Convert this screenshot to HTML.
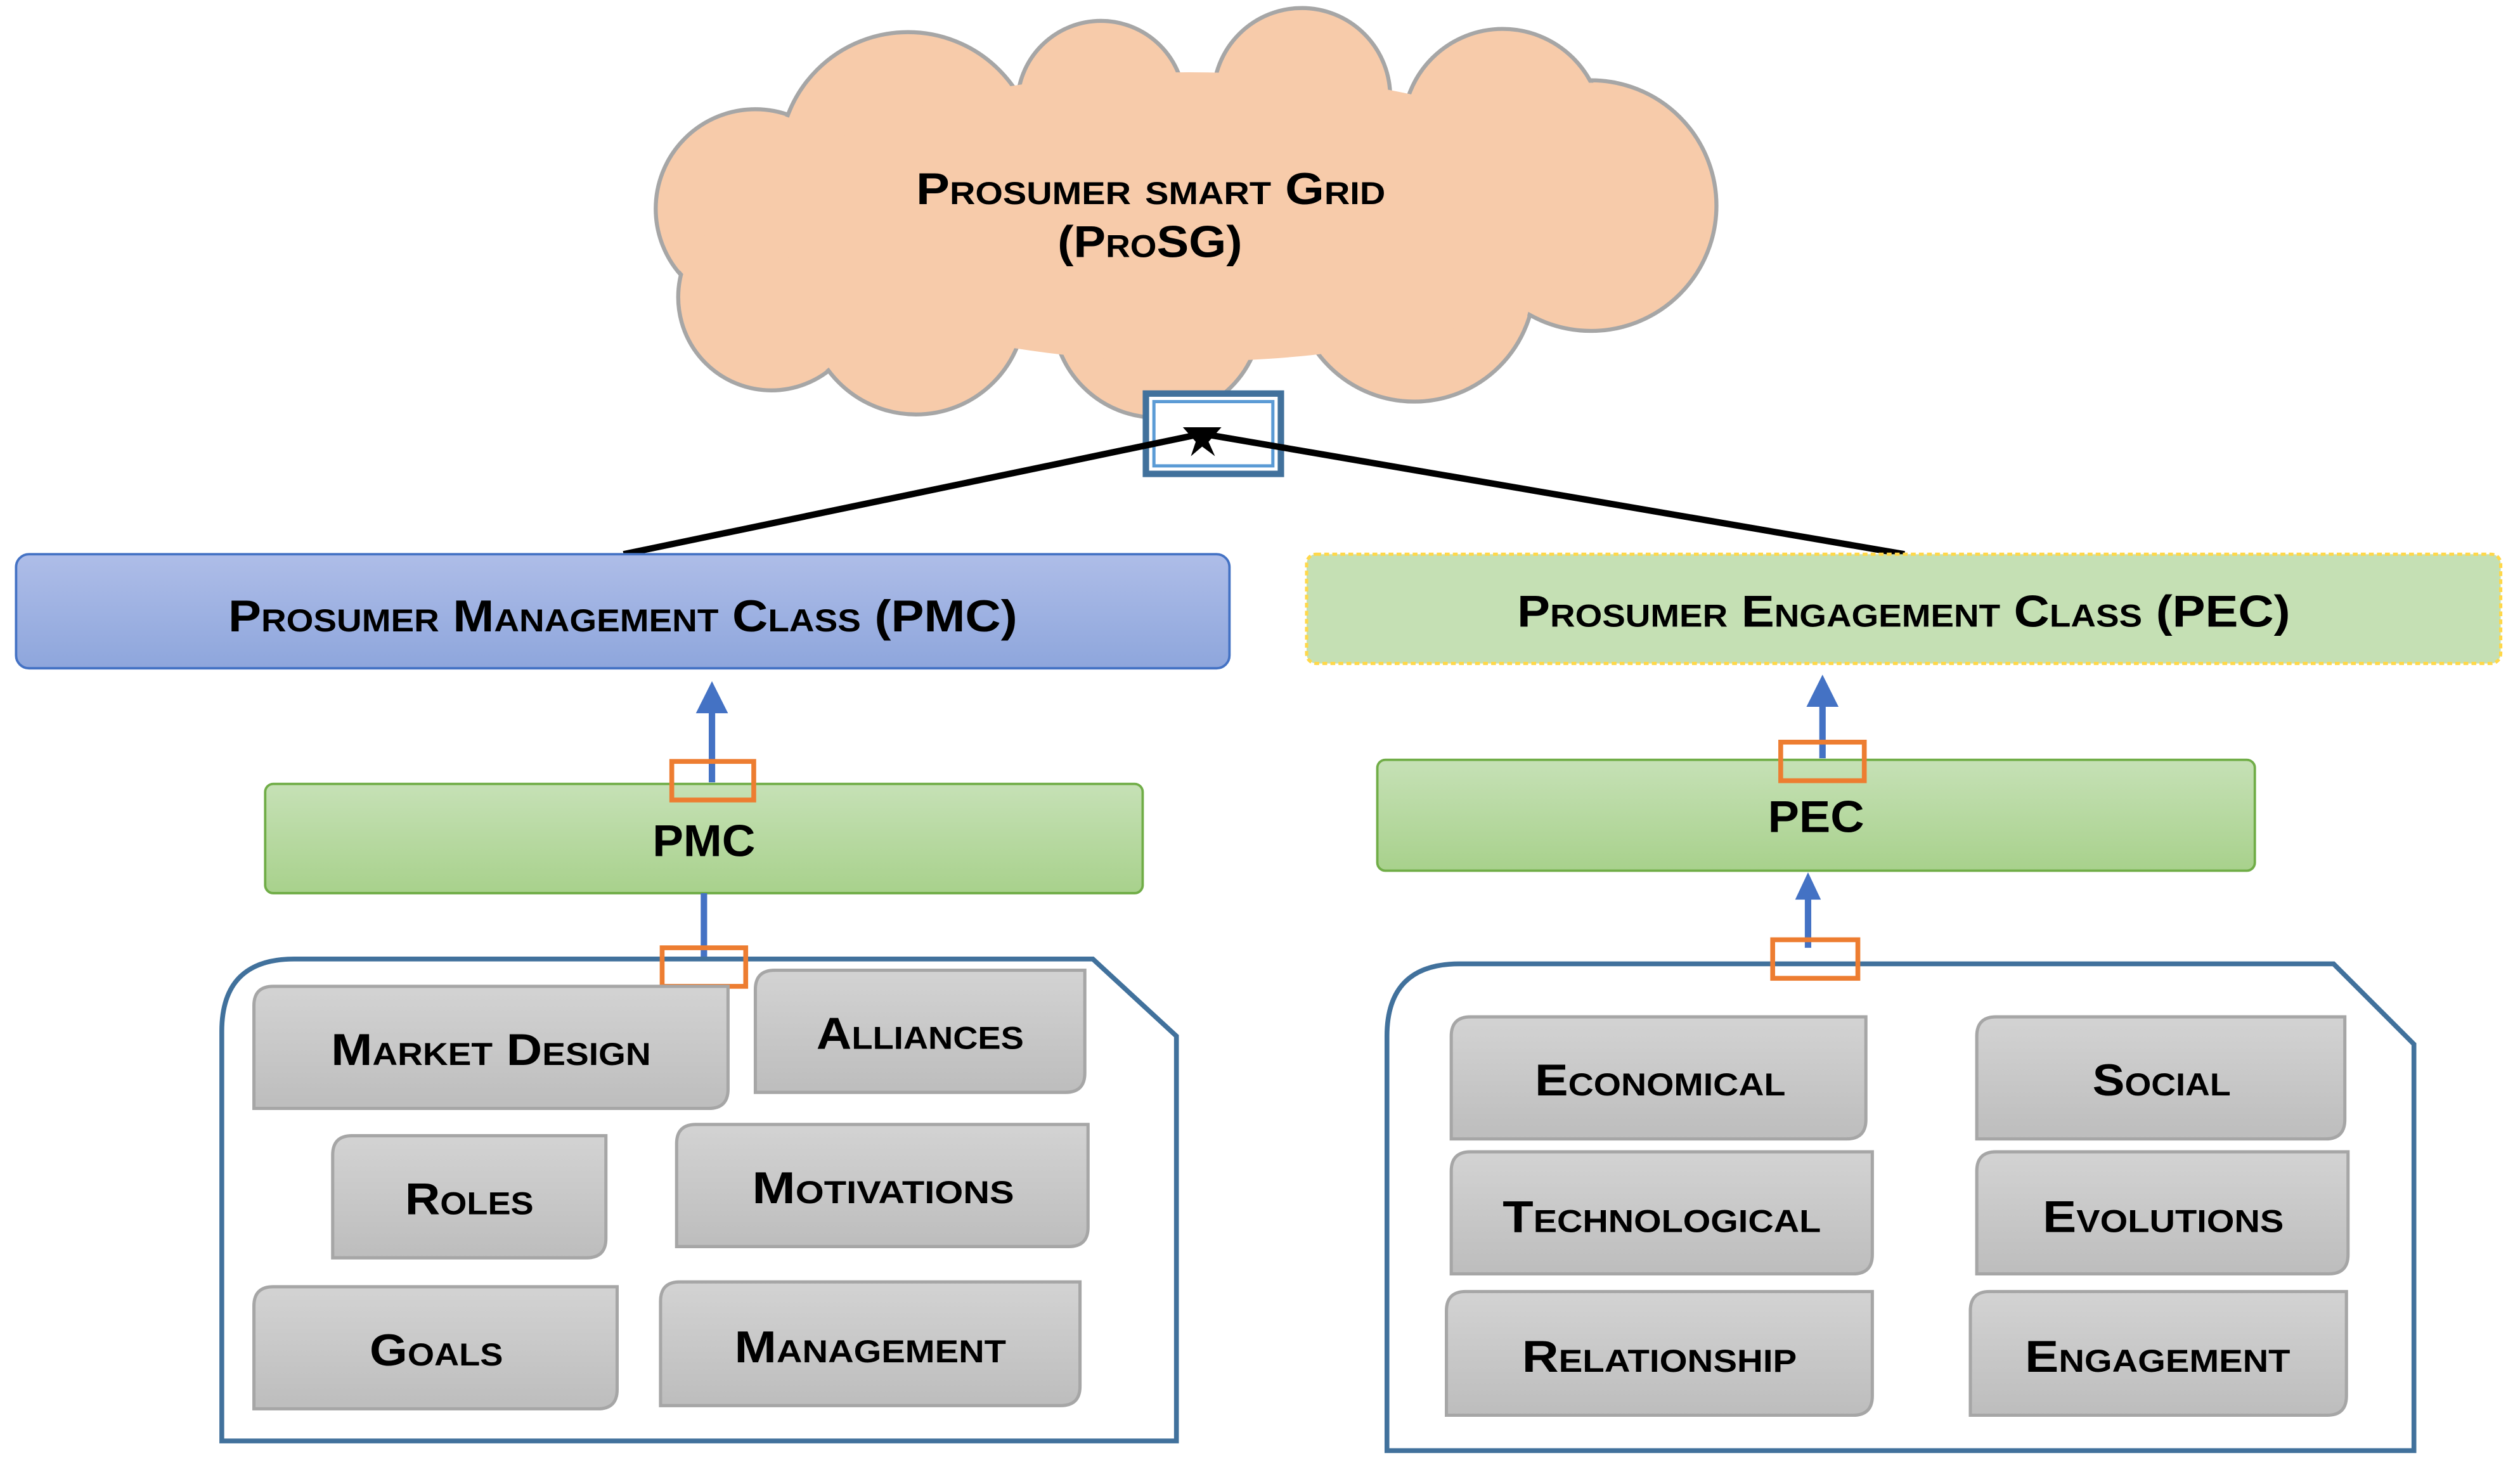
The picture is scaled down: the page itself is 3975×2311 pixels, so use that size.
<!DOCTYPE html>
<html><head><meta charset="utf-8"><style>
html,body{margin:0;padding:0;background:#fff}
svg text{font-family:"Liberation Sans",sans-serif;font-weight:bold;font-variant:small-caps;fill:#000}
</style></head><body>
<svg width="3975" height="2306" viewBox="0 0 1568 910" preserveAspectRatio="none" xmlns="http://www.w3.org/2000/svg">
<defs>
<linearGradient id="gb" x1="0" y1="0" x2="0" y2="1"><stop offset="0" stop-color="#aebde8"/><stop offset="1" stop-color="#8ea6dc"/></linearGradient>
<linearGradient id="gg" x1="0" y1="0" x2="0" y2="1"><stop offset="0" stop-color="#c6e1b6"/><stop offset="1" stop-color="#a8d18c"/></linearGradient>
<linearGradient id="gy" x1="0" y1="0" x2="0" y2="1"><stop offset="0" stop-color="#d3d3d3"/><stop offset="1" stop-color="#bdbdbd"/></linearGradient>
</defs>
<g stroke="#a6a6a6" stroke-width="2.5" fill="#f7cbaa">
<circle cx="470" cy="130" r="62"/><circle cx="480" cy="185" r="58"/><circle cx="570" cy="190" r="68"/>
<circle cx="720" cy="195" r="65"/><circle cx="880" cy="175" r="75"/><circle cx="990" cy="128" r="78"/>
<circle cx="935" cy="80" r="62"/><circle cx="810" cy="60" r="55"/><circle cx="685" cy="65" r="52"/><circle cx="565" cy="100" r="80"/>
</g>
<g fill="#f7cbaa">
<circle cx="470" cy="130" r="60.5"/><circle cx="480" cy="185" r="56.5"/><circle cx="570" cy="190" r="66.5"/>
<circle cx="720" cy="195" r="63.5"/><circle cx="880" cy="175" r="73.5"/><circle cx="990" cy="128" r="76.5"/>
<circle cx="935" cy="80" r="60.5"/><circle cx="810" cy="60" r="53.5"/><circle cx="685" cy="65" r="50.5"/><circle cx="565" cy="100" r="78.5"/>
<ellipse cx="740" cy="135" rx="260" ry="90"/>
</g>
<text x="570" y="127" font-size="28" textLength="292" lengthAdjust="spacingAndGlyphs">Prosumer smart Grid</text>
<text x="658" y="160" font-size="28" textLength="115" lengthAdjust="spacingAndGlyphs">(ProSG)</text>
<rect x="713" y="245" width="84" height="50" fill="#fff" stroke="#41719c" stroke-width="4"/>
<rect x="718" y="250" width="74" height="40" fill="none" stroke="#5b9bd5" stroke-width="2"/>
<line x1="388" y1="345" x2="748" y2="270" stroke="#000" stroke-width="4"/>
<line x1="1185" y1="345" x2="748" y2="270" stroke="#000" stroke-width="4"/>
<polygon points="736,266 760,266 752,275 756,284 748,278 741,284 744,275" fill="#000"/>
<rect x="10" y="345" width="755" height="71" rx="8" fill="url(#gb)" stroke="#4472c4" stroke-width="1.5"/>
<text x="142" y="393" font-size="28" textLength="491" lengthAdjust="spacingAndGlyphs">Prosumer Management Class (PMC)</text>
<rect x="813" y="345" width="743" height="68" rx="6" fill="#c5e0b4" stroke="#ffd84a" stroke-width="2" stroke-dasharray="3,2"/>
<text x="944" y="390" font-size="28" textLength="481" lengthAdjust="spacingAndGlyphs">Prosumer Engagement Class (PEC)</text>
<line x1="443" y1="487" x2="443" y2="440" stroke="#4472c4" stroke-width="4"/>
<polygon points="433,444 453,444 443,424" fill="#4472c4"/>
<rect x="165" y="488" width="546" height="68" rx="5" fill="url(#gg)" stroke="#70ad47" stroke-width="1.5"/>
<rect x="418" y="474" width="51" height="24" fill="none" stroke="#ed7d31" stroke-width="3"/>
<text x="406" y="533" font-size="28" textLength="64" lengthAdjust="spacingAndGlyphs" style="font-variant:normal">PMC</text>
<line x1="438" y1="556" x2="438" y2="600" stroke="#4472c4" stroke-width="4"/>
<path d="M183,597 L680,597 L732,645 L732,897 L138,897 L138,642 Q138,597 183,597 Z" fill="#fff" stroke="#41719c" stroke-width="3"/>
<rect x="412" y="590" width="52" height="24" fill="none" stroke="#ed7d31" stroke-width="3"/>
<line x1="1134" y1="472" x2="1134" y2="436" stroke="#4472c4" stroke-width="4"/>
<polygon points="1124,440 1144,440 1134,420" fill="#4472c4"/>
<rect x="857" y="473" width="546" height="69" rx="5" fill="url(#gg)" stroke="#70ad47" stroke-width="1.5"/>
<rect x="1108" y="462" width="52" height="24" fill="none" stroke="#ed7d31" stroke-width="3"/>
<text x="1100" y="518" font-size="28" textLength="60" lengthAdjust="spacingAndGlyphs" style="font-variant:normal">PEC</text>
<line x1="1125" y1="590" x2="1125" y2="558" stroke="#4472c4" stroke-width="4"/>
<polygon points="1117,560 1133,560 1125,543" fill="#4472c4"/>
<path d="M908,600 L1452,600 L1502,650 L1502,903 L863,903 L863,645 Q863,600 908,600 Z" fill="#fff" stroke="#41719c" stroke-width="3"/>
<rect x="1103" y="585" width="53" height="24" fill="none" stroke="#ed7d31" stroke-width="3"/>
<g stroke="#a6a6a6" stroke-width="2" fill="url(#gy)">
<path d="M170,614 H453 V678 Q453,690 441,690 H158 V626 Q158,614 170,614Z"/>
<path d="M482,604 H675 V668 Q675,680 663,680 H470 V616 Q470,604 482,604Z"/>
<path d="M219,707 H377 V771 Q377,783 365,783 H207 V719 Q207,707 219,707Z"/>
<path d="M433,700 H677 V764 Q677,776 665,776 H421 V712 Q421,700 433,700Z"/>
<path d="M170,801 H384 V865 Q384,877 372,877 H158 V813 Q158,801 170,801Z"/>
<path d="M423,798 H672 V863 Q672,875 660,875 H411 V810 Q411,798 423,798Z"/>
<path d="M915,633 H1161 V697 Q1161,709 1149,709 H903 V645 Q903,633 915,633Z"/>
<path d="M1242,633 H1459 V697 Q1459,709 1447,709 H1230 V645 Q1230,633 1242,633Z"/>
<path d="M915,717 H1165 V781 Q1165,793 1153,793 H903 V729 Q903,717 915,717Z"/>
<path d="M1242,717 H1461 V781 Q1461,793 1449,793 H1230 V729 Q1230,717 1242,717Z"/>
<path d="M912,804 H1165 V869 Q1165,881 1153,881 H900 V816 Q900,804 912,804Z"/>
<path d="M1238,804 H1460 V869 Q1460,881 1448,881 H1226 V816 Q1226,804 1238,804Z"/>
</g>
<g font-size="28" lengthAdjust="spacingAndGlyphs">
<text x="206" y="663" textLength="199" lengthAdjust="spacingAndGlyphs">Market Design</text>
<text x="508" y="653" textLength="129" lengthAdjust="spacingAndGlyphs">Alliances</text>
<text x="252" y="756" textLength="80" lengthAdjust="spacingAndGlyphs">Roles</text>
<text x="468" y="749" textLength="163" lengthAdjust="spacingAndGlyphs">Motivations</text>
<text x="230" y="850" textLength="83" lengthAdjust="spacingAndGlyphs">Goals</text>
<text x="457" y="848" textLength="169" lengthAdjust="spacingAndGlyphs">Management</text>
<text x="955" y="682" textLength="156" lengthAdjust="spacingAndGlyphs">Economical</text>
<text x="1302" y="682" textLength="86" lengthAdjust="spacingAndGlyphs">Social</text>
<text x="935" y="767" textLength="198" lengthAdjust="spacingAndGlyphs">Technological</text>
<text x="1271" y="767" textLength="150" lengthAdjust="spacingAndGlyphs">Evolutions</text>
<text x="947" y="854" textLength="171" lengthAdjust="spacingAndGlyphs">Relationship</text>
<text x="1260" y="854" textLength="165" lengthAdjust="spacingAndGlyphs">Engagement</text>
</g>
</svg>
</body></html>
